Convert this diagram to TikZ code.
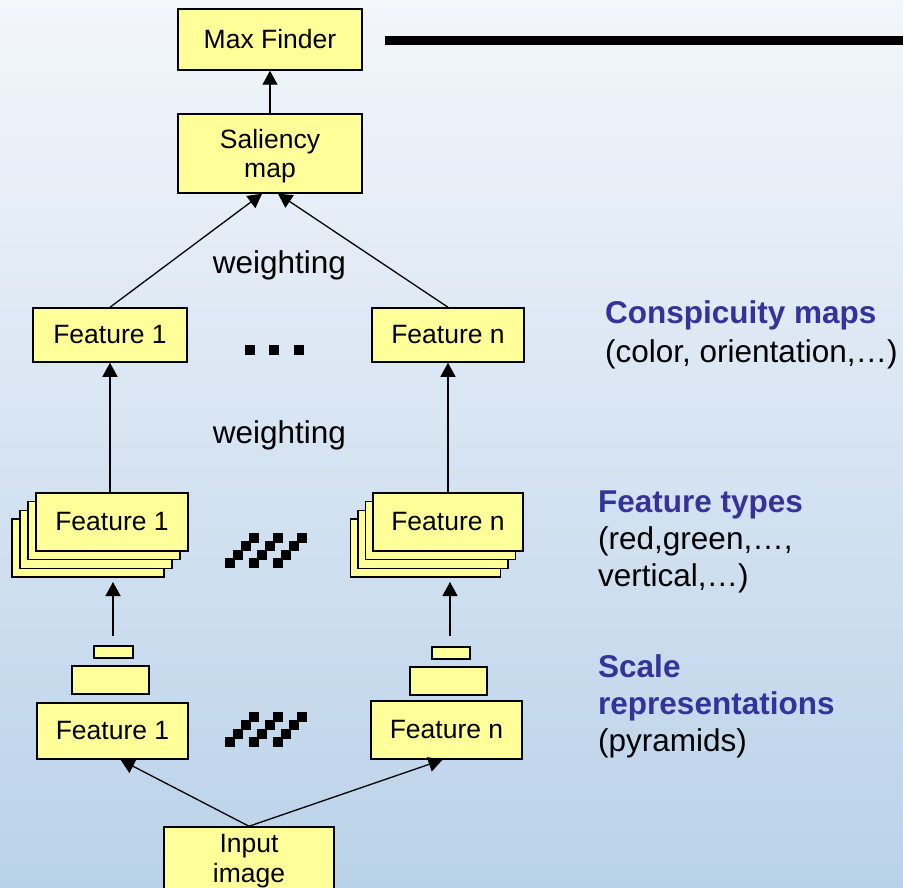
\documentclass[tikz,border=0pt]{standalone}
\usepackage{fontspec}
\setmainfont{Liberation Sans}
\usetikzlibrary{arrows.meta}
\definecolor{bgtop}{RGB}{243,246,251}
\definecolor{bgbottom}{RGB}{186,210,233}
\definecolor{boxfill}{RGB}{255,255,153}
\definecolor{labelblue}{RGB}{51,51,153}
\tikzset{
  box/.style={draw=black, line width=1.5pt, fill=boxfill, inner sep=0pt,
    align=center, font=\fontsize{26.5}{29.5}\selectfont},
  card/.style={box},
  arr/.style={line width=1.3pt, -{Triangle[width=15pt,length=14pt]}},
  sidehead/.style={anchor=base west, text=labelblue, inner sep=0pt,
    font=\fontsize{31.5}{37}\selectfont\bfseries},
  sidetext/.style={anchor=base west, inner sep=0pt,
    font=\fontsize{31.5}{37}\selectfont},
  weight/.style={anchor=base, inner sep=0pt, font=\fontsize{31.5}{37}\selectfont}
}
\begin{document}
\begin{tikzpicture}[x=1pt, y=-1pt]
  \useasboundingbox (0,0) rectangle (903,888);
  \clip (0,0) rectangle (903,888);
  \shade[top color=bgtop, bottom color=bgbottom] (0,0) rectangle (903,888);

  % top of the chain
  \node[box, minimum width=184pt, minimum height=61pt] (max) at (270,39.5) {Max Finder};
  \node[box, minimum width=184pt, minimum height=79pt] (sal) at (270,153.5)
    {\rule{0pt}{24.5pt}Saliency\\map};
  \coordinate (barL) at (385,41);
  \coordinate (barR) at (903,41);
  \draw[line width=9pt] (barL) -- (barR);

  % conspicuity maps
  \node[box, minimum width=154pt, minimum height=54pt] (f1c) at (110,335) {Feature 1};
  \node[box, minimum width=152pt, minimum height=54pt] (fnc) at (448,335) {Feature n};

  % stacked feature types, back to front
  \foreach \i/\dx/\dy in {d/-24/26, c/-16/17.4, b/-8/8.7}{
    \node[card, minimum width=152pt, minimum height=58pt] (s1\i) at (112+\dx,522+\dy) {};
  }
  \node[card, minimum width=152pt, minimum height=58pt] (s1a) at (112,522) {Feature 1};
  \foreach \i/\dx/\dy in {d/-22.5/26, c/-15/17.4, b/-7.5/8.7}{
    \node[card, minimum width=150pt, minimum height=58pt] (sn\i) at (448+\dx,522+\dy) {};
  }
  \node[card, minimum width=150pt, minimum height=58pt] (sna) at (448,522) {Feature n};

  % pyramids
  \node[box, minimum width=39pt, minimum height=12pt] (p1s) at (113.5,652) {};
  \node[box, minimum width=77pt, minimum height=28pt] (p1m) at (110.5,680) {};
  \node[box, minimum width=151pt, minimum height=56pt] (f1b) at (112.5,731) {Feature 1};
  \node[box, minimum width=38pt, minimum height=12pt] (pns) at (451,653) {};
  \node[box, minimum width=77pt, minimum height=28pt] (pnm) at (448.5,681) {};
  \node[box, minimum width=151pt, minimum height=58pt] (fnb) at (446.5,730) {Feature n};

  % input
  \node[box, minimum width=170pt, minimum height=68pt] (inp) at (249,861) {Input\\image};

  % connectors
  \draw[arr] (sal.north) -- (max.south);
  \draw[arr] (f1c.north) -- ([xshift=-8pt]sal.south);
  \draw[arr] (fnc.north) -- ([xshift=8pt]sal.south);
  \draw[arr] (s1a.north -| f1c.south) -- (f1c.south);
  \draw[arr] (sna.north -| fnc.south) -- (fnc.south);
  \coordinate (p1from) at (113,636);
  \coordinate (p1to) at (113,582);
  \coordinate (pnfrom) at (450,636);
  \coordinate (pnto) at (450,582);
  \draw[arr] (p1from) -- (p1to);
  \draw[arr] (pnfrom) -- (pnto);
  \draw[arr] (inp.north) -- ([xshift=8pt]f1b.south);
  \draw[arr] (inp.north) -- ([xshift=-4pt]fnb.south);

  % weighting labels
  \node[weight] (w1) at (279.5,273) {weighting};
  \node[weight] (w2) at (279.5,443) {weighting};

  % ellipsis between the conspicuity maps
  \foreach \x in {245,269,294}{
    \fill (\x,345) rectangle ++(10,10);
  }
  % staircase marks between the feature columns
  \foreach \yo in {0,179}{
    \foreach \xo in {0,24,48}{
      \foreach \k in {0,1,2,3}{
        \fill ({225+\xo+8*\k},{558+\yo-8.5*\k}) rectangle ++(10.4,10.4);
      }
    }
  }

  % side descriptions
  \node[sidehead] (t1a) at (605,323) {Conspicuity maps};
  \node[sidetext] (t1b) at (605,362) {(color, orientation,…)};
  \node[sidehead] (t2a) at (598,512) {Feature types};
  \node[sidetext] (t2b) at (598,549) {(red,green,…,};
  \node[sidetext] (t2c) at (598,586) {vertical,…)};
  \node[sidehead] (t3a) at (598,677) {Scale};
  \node[sidehead] (t3b) at (598,714) {representations};
  \node[sidetext] (t3c) at (598,751) {(pyramids)};
\end{tikzpicture}
\end{document}
